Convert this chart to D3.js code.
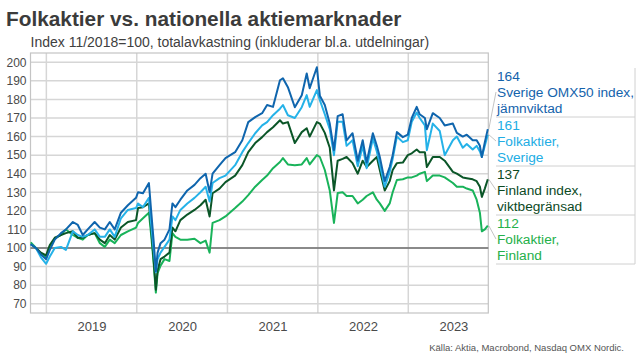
<!DOCTYPE html>
<html>
<head>
<meta charset="utf-8">
<script src="https://cdn.jsdelivr.net/npm/d3@7"></script>
<style>
  body { margin: 0; background: #fff; }
  svg { display: block; font-family: "Liberation Sans", Arial, sans-serif; }
</style>
</head>
<body>
<svg id="chart" width="644" height="362"></svg>
<script>
// Data (index 11/2018 = 100)
const dates = [
  '2018-10-30', '2018-11-20', '2018-12-10', '2018-12-31', '2019-01-15', '2019-02-04', '2019-03-01', '2019-03-21',
  '2019-04-18', '2019-05-08', '2019-05-28', '2019-06-17', '2019-07-15', '2019-08-05', '2019-08-25', '2019-09-14',
  '2019-10-04', '2019-10-29', '2019-11-26', '2019-12-29', '2020-01-06', '2020-01-26', '2020-02-19', '2020-02-28',
  '2020-03-09', '2020-03-18', '2020-03-25', '2020-04-06', '2020-04-22', '2020-05-12', '2020-05-24', '2020-06-05',
  '2020-06-25', '2020-07-23', '2020-08-21', '2020-09-14', '2020-10-05', '2020-10-21', '2020-11-02', '2020-11-30',
  '2020-12-24', '2021-02-01', '2021-03-02', '2021-03-26', '2021-04-23', '2021-05-21', '2021-06-10', '2021-07-04',
  '2021-08-01', '2021-08-13', '2021-09-02', '2021-09-30', '2021-10-28', '2021-11-17', '2021-11-29', '2021-12-28',
  '2022-01-09', '2022-01-29', '2022-02-18', '2022-03-07', '2022-03-22', '2022-04-11', '2022-04-27', '2022-05-21',
  '2022-06-11', '2022-07-01', '2022-07-17', '2022-08-11', '2022-08-27', '2022-09-08', '2022-09-28', '2022-10-18',
  '2022-10-30', '2022-11-16', '2022-12-10', '2022-12-30', '2023-01-15', '2023-02-04', '2023-02-16', '2023-03-09',
  '2023-03-17', '2023-04-10', '2023-05-08', '2023-05-28', '2023-06-30', '2023-07-16', '2023-08-09', '2023-08-25',
  '2023-09-18', '2023-10-04', '2023-10-17', '2023-10-25', '2023-11-06', '2023-11-18'
];

const omx50 = [
  102, 100, 96.5, 94, 99, 104.5, 108, 110, 114, 112.4, 107, 110, 114, 111, 110, 114,
  110, 119, 123, 127, 130, 129.5, 135, 120, 104, 87.5, 97.5, 102.6, 104.5, 110, 124, 122,
  126, 131, 134, 137.6, 140, 130, 140, 144.6, 148.4, 151.6, 158, 167.8, 170.5, 172.6, 177, 176,
  190.3, 191.4, 186.6, 175.8, 182.3, 194, 186, 197.3, 182, 177, 167, 152.7, 171, 172, 158, 161.8,
  147, 158, 146, 161.8, 155, 149, 136, 143.6, 150, 162.4, 159.7, 161, 170, 176, 172, 170,
  164, 172.6, 170, 166, 167, 162, 160, 161, 158, 158, 155, 149, 157, 164
];

const folkSe = [
  102, 100, 95, 91.5, 95.4, 100, 100.6, 99, 109, 107, 106, 107, 110, 106, 106, 110,
  106, 116, 120.5, 121.5, 124, 122, 127, 113, 99, 87, 94, 97.5, 100.6, 104.5, 117, 115,
  120.5, 124, 127, 130, 133, 125, 135, 137.6, 139, 144.6, 151.6, 156.5, 161.8, 166, 167.8, 171.5,
  175, 177, 171.5, 170, 175.8, 182.3, 176, 185, 179.6, 172, 164, 150, 168, 168, 155, 158,
  144, 155, 143, 159, 152, 145, 133, 141, 148, 160, 157, 158, 168, 173, 170, 166,
  152.7, 167, 163, 150, 158, 160, 154, 156, 153, 155, 152, 149, 155, 161
];

const finIdx = [
  102, 100, 97.5, 96, 101.6, 105.5, 107, 108, 109, 105.5, 105.5, 107, 108, 104.5, 102.6, 107,
  104.5, 111, 114, 115, 121.5, 122, 124, 110, 94, 77.5, 88, 94, 95.4, 97.5, 111, 109,
  115, 118, 120.5, 123, 126, 117, 129.5, 132, 135.5, 139, 144.6, 151.6, 156.5, 159.7, 162.4, 165,
  168.8, 167, 167.8, 156.5, 162.4, 164.5, 160, 167.8, 167, 162, 154, 131, 147, 148, 149, 145.7,
  140, 147, 143.6, 147, 149, 142, 131, 136, 142, 145.7, 146, 150, 151, 153, 151.6, 151.6,
  143.6, 149, 149, 147, 141, 140, 138, 137.6, 137, 136, 133, 127.5, 132, 137
];

const folkFi = [
  103, 100, 97, 95, 101, 105, 107, 110, 107, 105.5, 104.5, 107, 108, 102.6, 100.6, 104.5,
  102.6, 107, 109, 111, 113.5, 116, 119, 107, 92, 76, 86.5, 90.5, 94, 93, 108, 106,
  104.5, 104.5, 105, 102.6, 104, 97.5, 113.5, 115, 117, 121.5, 125, 128.5, 133, 136.6, 139, 143,
  146.3, 148.4, 145, 144.6, 145, 148.4, 145, 150, 149, 142, 131, 113.5, 129.6, 130, 128, 128,
  124, 126, 128, 130, 126, 124, 120, 124, 130, 136.6, 137, 138, 138, 139, 140, 141,
  136, 139, 139, 138, 135, 133, 133, 132, 131, 126, 119, 109, 110, 112
];

const yTicks = [70, 80, 90, 100, 110, 120, 130, 140, 150, 160, 170, 180, 190, 200];
const yearTicks = [2019, 2020, 2021, 2022, 2023];

const legendLines = [['Sverige OMX50 index,', 'jämnviktad'], ['Folkaktier,', 'Sverige'], ['Finland index,', 'viktbegränsad'], ['Folkaktier,', 'Finland']];
const lastValues = [164, 161, 137, 112];
const lineColors = ['#0f65ad', '#25b2e8', '#0b5628', '#19b35a'];
const textColors = ['#1463ac', '#22ade4', '#0c4a1f', '#24b04a'];

// Set up dimensions
const plot = { left: 30.5, right: 488.3, top: 53, bottom: 313 };
const parse = d3.timeParse('%Y-%m-%d');
const dateObjs = dates.map(parse);
const values = [omx50, folkSe, finIdx, folkFi];

const svg = d3.select('#chart');

const x = d3.scaleTime()
  .domain([new Date(2018, 9, 29), new Date(2023, 10, 20)])
  .range([plot.left, plot.right]);

const y = d3.scaleLinear()
  .domain([65, 205])
  .range([plot.bottom, plot.top]);

/* Title
=========================================================================*/
svg.append('text')
  .attr('x', 6).attr('y', 26)
  .attr('fill', '#3b3b3b')
  .style('font-size', '20.8px').style('font-weight', 'bold')
  .text('Folkaktier vs. nationella aktiemarknader');

svg.append('text')
  .attr('x', 30.5).attr('y', 46.5)
  .attr('fill', '#404040')
  .style('font-size', '14px')
  .text('Index 11/2018=100, totalavkastning (inkluderar bl.a. utdelningar)');

/* Grid
=========================================================================*/
const grid = svg.append('g');

grid.selectAll('line.h')
  .data(yTicks)
  .enter()
  .append('line')
  .attr('x1', plot.left).attr('x2', plot.right)
  .attr('y1', (d) => y(d)).attr('y2', (d) => y(d))
  .attr('stroke', '#d6d6d6').attr('stroke-width', 1.5);

grid.selectAll('line.v')
  .data(yearTicks)
  .enter()
  .append('line')
  .attr('x1', (d) => x(new Date(d, 0, 1))).attr('x2', (d) => x(new Date(d, 0, 1)))
  .attr('y1', plot.top).attr('y2', plot.bottom)
  .attr('stroke', '#d6d6d6').attr('stroke-width', 1.5);

grid.append('rect')
  .attr('x', plot.left).attr('y', plot.top)
  .attr('width', plot.right - plot.left).attr('height', plot.bottom - plot.top)
  .attr('fill', 'none').attr('stroke', '#c4c4c4').attr('stroke-width', 1.2);

grid.append('line')
  .attr('x1', plot.left).attr('x2', plot.right)
  .attr('y1', y(100)).attr('y2', y(100))
  .attr('stroke', '#6e6e6e').attr('stroke-width', 1.5);

/* Axes
=========================================================================*/
const yAxis = svg.append('g')
  .attr('transform', `translate(${plot.left},0)`)
  .call(d3.axisLeft(y).tickValues(yTicks).tickSize(0).tickPadding(4));
yAxis.select('.domain').remove();
yAxis.selectAll('text').attr('fill', '#4a4a4a').style('font-size', '12px').style('font-family', '"Liberation Sans", Arial, sans-serif');

const xAxis = svg.append('g')
  .attr('transform', `translate(0,${plot.bottom})`)
  .call(d3.axisBottom(x)
    .tickValues(yearTicks.map((d) => new Date(d, 6, 2)))
    .tickFormat(d3.timeFormat('%Y'))
    .tickSize(0).tickPadding(9));
xAxis.select('.domain').remove();
xAxis.selectAll('text').attr('fill', '#4a4a4a').style('font-size', '13px').style('font-family', '"Liberation Sans", Arial, sans-serif');

/* Lines
=========================================================================*/
const line = d3.line()
  .x((d) => x(d[0]))
  .y((d) => y(d[1]));

const order = [3, 2, 1, 0];
svg.append('g')
  .selectAll('path')
  .data(order)
  .enter()
  .append('path')
  .attr('fill', 'none')
  .attr('stroke', (i) => lineColors[i])
  .attr('stroke-width', 2)
  .attr('stroke-linejoin', 'round')
  .attr('d', (i) => line(dateObjs.map((dt, k) => [dt, values[i][k]])));

/* Legend
=========================================================================*/
const legendX = 497;
const boxTop = 68;
const boxH = 49;
const lastDate = dateObjs[dateObjs.length - 1];

const legend = svg.append('g');

legend.selectAll('line.conn')
  .data(lastValues)
  .enter()
  .append('line')
  .attr('x1', x(lastDate) + 1)
  .attr('y1', (d) => y(d))
  .attr('x2', legendX - 1)
  .attr('y2', (_, i) => boxTop + i * boxH + 24)
  .attr('stroke', '#b4b4b4').attr('stroke-width', 0.8);

legend.selectAll('line.sep')
  .data(lastValues)
  .enter()
  .append('line')
  .attr('x1', legendX - 1).attr('x2', 635)
  .attr('y1', (_, i) => boxTop + (i + 1) * boxH).attr('y2', (_, i) => boxTop + (i + 1) * boxH)
  .attr('stroke', '#d0d0d0').attr('stroke-width', 1);

legend.append('line')
  .attr('x1', 635).attr('x2', 635)
  .attr('y1', boxTop).attr('y2', boxTop + 4 * boxH)
  .attr('stroke', '#d0d0d0').attr('stroke-width', 1);

const items = legend.selectAll('text.item')
  .data(lastValues)
  .enter()
  .append('text')
  .attr('x', legendX)
  .attr('y', (_, i) => boxTop + i * boxH + 13)
  .attr('fill', (_, i) => textColors[i])
  .style('font-size', '13.7px');

items.append('tspan').attr('x', legendX).attr('dy', 0).text((d) => d);
items.append('tspan').attr('x', legendX).attr('dy', 16).text((_, i) => legendLines[i][0]);
items.append('tspan').attr('x', legendX).attr('dy', 16).text((_, i) => legendLines[i][1]);

/* Source
=========================================================================*/
svg.append('text')
  .attr('x', 624).attr('y', 351)
  .attr('text-anchor', 'end')
  .attr('fill', '#555')
  .style('font-size', '9.5px')
  .text('Källa: Aktia, Macrobond, Nasdaq OMX Nordic.');
</script>
</body>
</html>
